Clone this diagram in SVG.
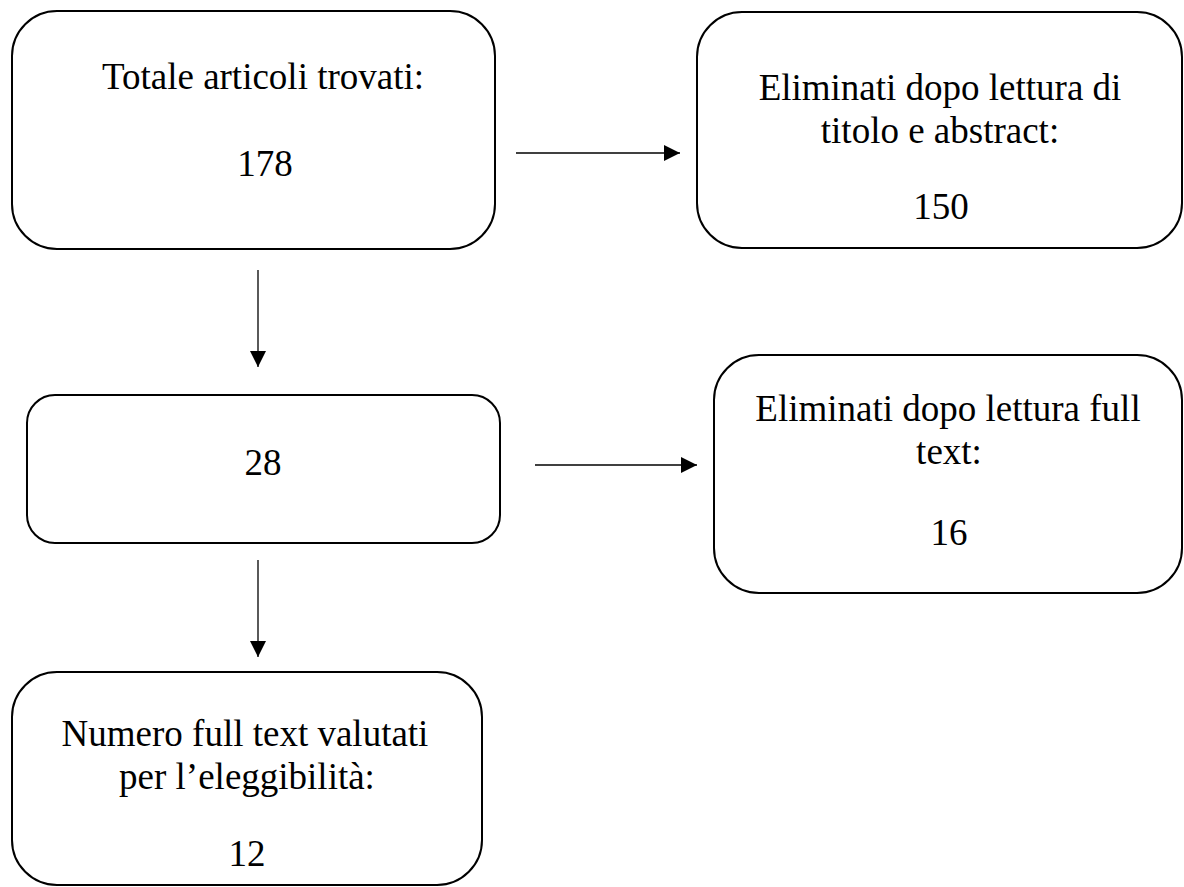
<svg xmlns="http://www.w3.org/2000/svg" width="1184" height="887" viewBox="0 0 1184 887">
<defs>
<style>
.box{fill:#fff;stroke:#000;stroke-width:2}
.t{font-family:"Liberation Serif","Times New Roman",serif;font-size:37px;fill:#000;text-anchor:middle}
.c{stroke:#000;stroke-width:1.3;fill:none}
</style>
<marker id="ah" viewBox="0 0 10 10" refX="10" refY="5" markerWidth="16" markerHeight="16" markerUnits="userSpaceOnUse" orient="auto">
<path d="M0,0 L10,5 L0,10 Z" fill="#000"/>
</marker>
</defs>
<rect width="1184" height="887" fill="#fff"/>
<g id="n1">
<rect class="box" x="12" y="11" width="483" height="238" rx="45"/>
<text class="t" x="263" y="89">Totale articoli trovati:</text>
<text class="t" x="265" y="176">178</text>
</g>
<g id="n2">
<rect class="box" x="697" y="12" width="485" height="236" rx="45"/>
<text class="t" x="940" y="100">Eliminati dopo lettura di</text>
<text class="t" x="940" y="143">titolo e abstract:</text>
<text class="t" x="941" y="219">150</text>
</g>
<g id="n3">
<rect class="box" x="27" y="395" width="473" height="148" rx="28"/>
<text class="t" x="263" y="475">28</text>
</g>
<g id="n4">
<rect class="box" x="714" y="355" width="468" height="238" rx="45"/>
<text class="t" x="948" y="421">Eliminati dopo lettura full</text>
<text class="t" x="949" y="464">text:</text>
<text class="t" x="949" y="545">16</text>
</g>
<g id="n5">
<rect class="box" x="12" y="672" width="470" height="213" rx="45"/>
<text class="t" x="245" y="746">Numero full text valutati</text>
<text class="t" x="247" y="789">per l’eleggibilità:</text>
<text class="t" x="247" y="866">12</text>
</g>
<g id="connectors">
<line class="c" x1="516" y1="153" x2="680" y2="153" marker-end="url(#ah)"/>
<line class="c" x1="258" y1="270" x2="258" y2="367" marker-end="url(#ah)"/>
<line class="c" x1="535" y1="465" x2="697" y2="465" marker-end="url(#ah)"/>
<line class="c" x1="258" y1="560" x2="258" y2="657" marker-end="url(#ah)"/>
</g>
</svg>
